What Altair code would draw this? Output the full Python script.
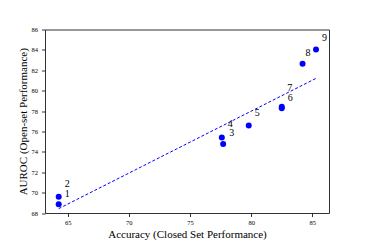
import altair as alt
import pandas as pd

labels = ["1", "2", "3", "4", "5", "6", "7", "8", "9"]
accuracy = [64.27, 64.27, 77.71, 77.6, 79.8, 82.5, 82.5, 84.2, 85.3]
auroc = [68.85, 69.6, 74.78, 75.41, 76.59, 78.27, 78.42, 82.65, 84.03]

df = pd.DataFrame({"label": labels, "acc": accuracy, "auroc": auroc})

FONT = "Liberation Serif"
xs = alt.Scale(domain=[63.15, 86.36], nice=False, zero=False)
ys = alt.Scale(domain=[68, 86], nice=False, zero=False)

xenc = alt.X("acc:Q", scale=xs, axis=alt.Axis(
    title="Accuracy (Closed Set Performance)", values=[65, 70, 75, 80, 85],
    grid=False, domain=False, tickColor="black", tickSize=3.5, tickWidth=0.8,
    labelFont=FONT, labelFontSize=6.5, labelColor="black", labelPadding=3,
    titleFont=FONT, titleFontSize=11, titleFontWeight="normal", titleColor="black",
    titleX=142, titleY=21.5, titleBaseline="middle", titleAlign="center"))
yenc = alt.Y("auroc:Q", scale=ys, axis=alt.Axis(
    title="AUROC (Open-set Performance)", values=list(range(68, 87, 2)),
    grid=False, domain=False, tickColor="black", tickSize=3.5, tickWidth=0.8,
    labelFont=FONT, labelFontSize=6.5, labelColor="black", labelPadding=4,
    titleFont=FONT, titleFontSize=11, titleFontWeight="normal", titleColor="black",
    titleX=-22, titleY=91.75, titleAngle=270, titleBaseline="middle", titleAlign="center"))

base = alt.Chart(df)

fit = base.transform_regression("acc", "auroc").mark_line(
    color="#0000ff", strokeDash=[3, 2], strokeWidth=1).encode(x=xenc, y=yenc)

pts = base.mark_circle(color="#0000ff", opacity=1, size=36).encode(x=xenc, y=yenc)


def label_layer(names, dx, dy):
    cond = " || ".join(f"datum.label == '{n}'" for n in names)
    return base.transform_filter(cond).mark_text(
        font=FONT, fontSize=10, color="black", dx=dx, dy=dy,
        baseline="middle", align="center"
    ).encode(x=xenc, y=yenc, text="label:N")


texts = [
    label_layer(["1", "3", "6"], 8.5, -10.5),
    label_layer(["2", "4"], 8.5, -13),
    label_layer(["5", "9"], 8.5, -12),
    label_layer(["8"], 5.5, -11),
    label_layer(["7"], 8, -18.5),
]

chart = alt.layer(fit, pts, *texts).properties(
    width=284, height=183.5,
    autosize=alt.AutoSizeParams(type="none"),
    padding={"left": 37, "top": 21.5, "right": 29, "bottom": 28},
).configure_view(stroke="#333333", strokeWidth=1)

chart.save("out.html", embed_options={"renderer": "svg", "actions": False})
